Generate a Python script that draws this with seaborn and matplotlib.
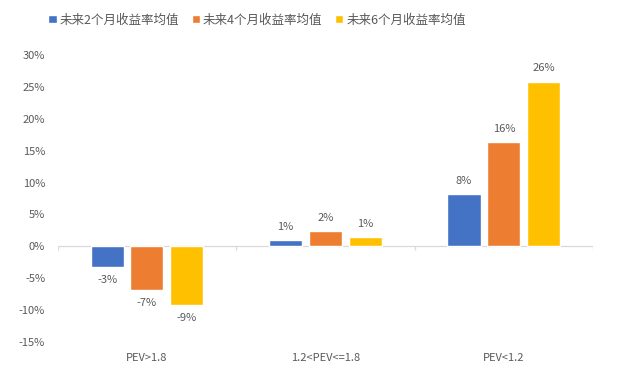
import numpy as np
import pandas as pd
import seaborn as sns
import matplotlib.pyplot as plt
from matplotlib.ticker import FuncFormatter

categories = ["PEV>1.8", "1.2<PEV<=1.8", "PEV<1.2"]
series = ["未来2个月收益率均值", "未来4个月收益率均值", "未来6个月收益率均值"]
ret_2m = [-3.2, 1.0, 8.2]
ret_4m = [-6.8, 2.4, 16.3]
ret_6m = [-9.2, 1.4, 25.8]
colors = ["#4472C4", "#ED7D31", "#FFC000"]

rows = []
for s, vals in zip(series, [ret_2m, ret_4m, ret_6m]):
    for c, v in zip(categories, vals):
        rows.append({"cat": c, "series": s, "val": v})
df = pd.DataFrame(rows)

sns.set_theme(style="white")
plt.rcParams['font.family'] = ['Noto Sans CJK SC', 'DejaVu Sans']
grey = "#595959"

fig = plt.figure(figsize=(6.27, 3.84), dpi=100)
ax = fig.add_axes([0.092, 0.109, 0.854, 0.748])

sns.barplot(data=df, x="cat", y="val", hue="series", order=categories,
            hue_order=series, palette=colors, width=0.67, gap=0.17,
            saturation=1, ax=ax)

for cont in ax.containers:
    vals = cont.datavalues
    ax.bar_label(cont, labels=[f"{v:.0f}%" for v in vals], padding=6,
                 fontsize=8, color=grey)

ax.set_ylim(-15, 30)
ax.set_yticks(np.arange(-15, 31, 5))
ax.yaxis.set_major_formatter(FuncFormatter(lambda v, p: f"{v:.0f}%"))
ax.set_xlim(-0.5, len(categories) - 0.5)

# zero line with category separators
ax.axhline(0, color="#D9D9D9", lw=0.9, zorder=0)
seps = np.arange(len(categories) + 1) - 0.5
ax.vlines(seps, -0.6, 0, color="#D9D9D9", lw=0.9, zorder=0)

for sp in ax.spines.values():
    sp.set_visible(False)
ax.tick_params(axis="both", length=0, labelsize=8, colors=grey)
ax.tick_params(axis="x", pad=8)
ax.tick_params(axis="y", pad=9)
ax.set_xlabel("")
ax.set_ylabel("")

ax.legend(loc="center", bbox_to_anchor=(0.41, 0.948), bbox_transform=fig.transFigure,
          ncol=3, frameon=False, fontsize=9, handlelength=0.65, handleheight=0.65,
          handletextpad=0.25, columnspacing=1.0, labelcolor=grey)

fig.savefig("out.png", dpi=100)
